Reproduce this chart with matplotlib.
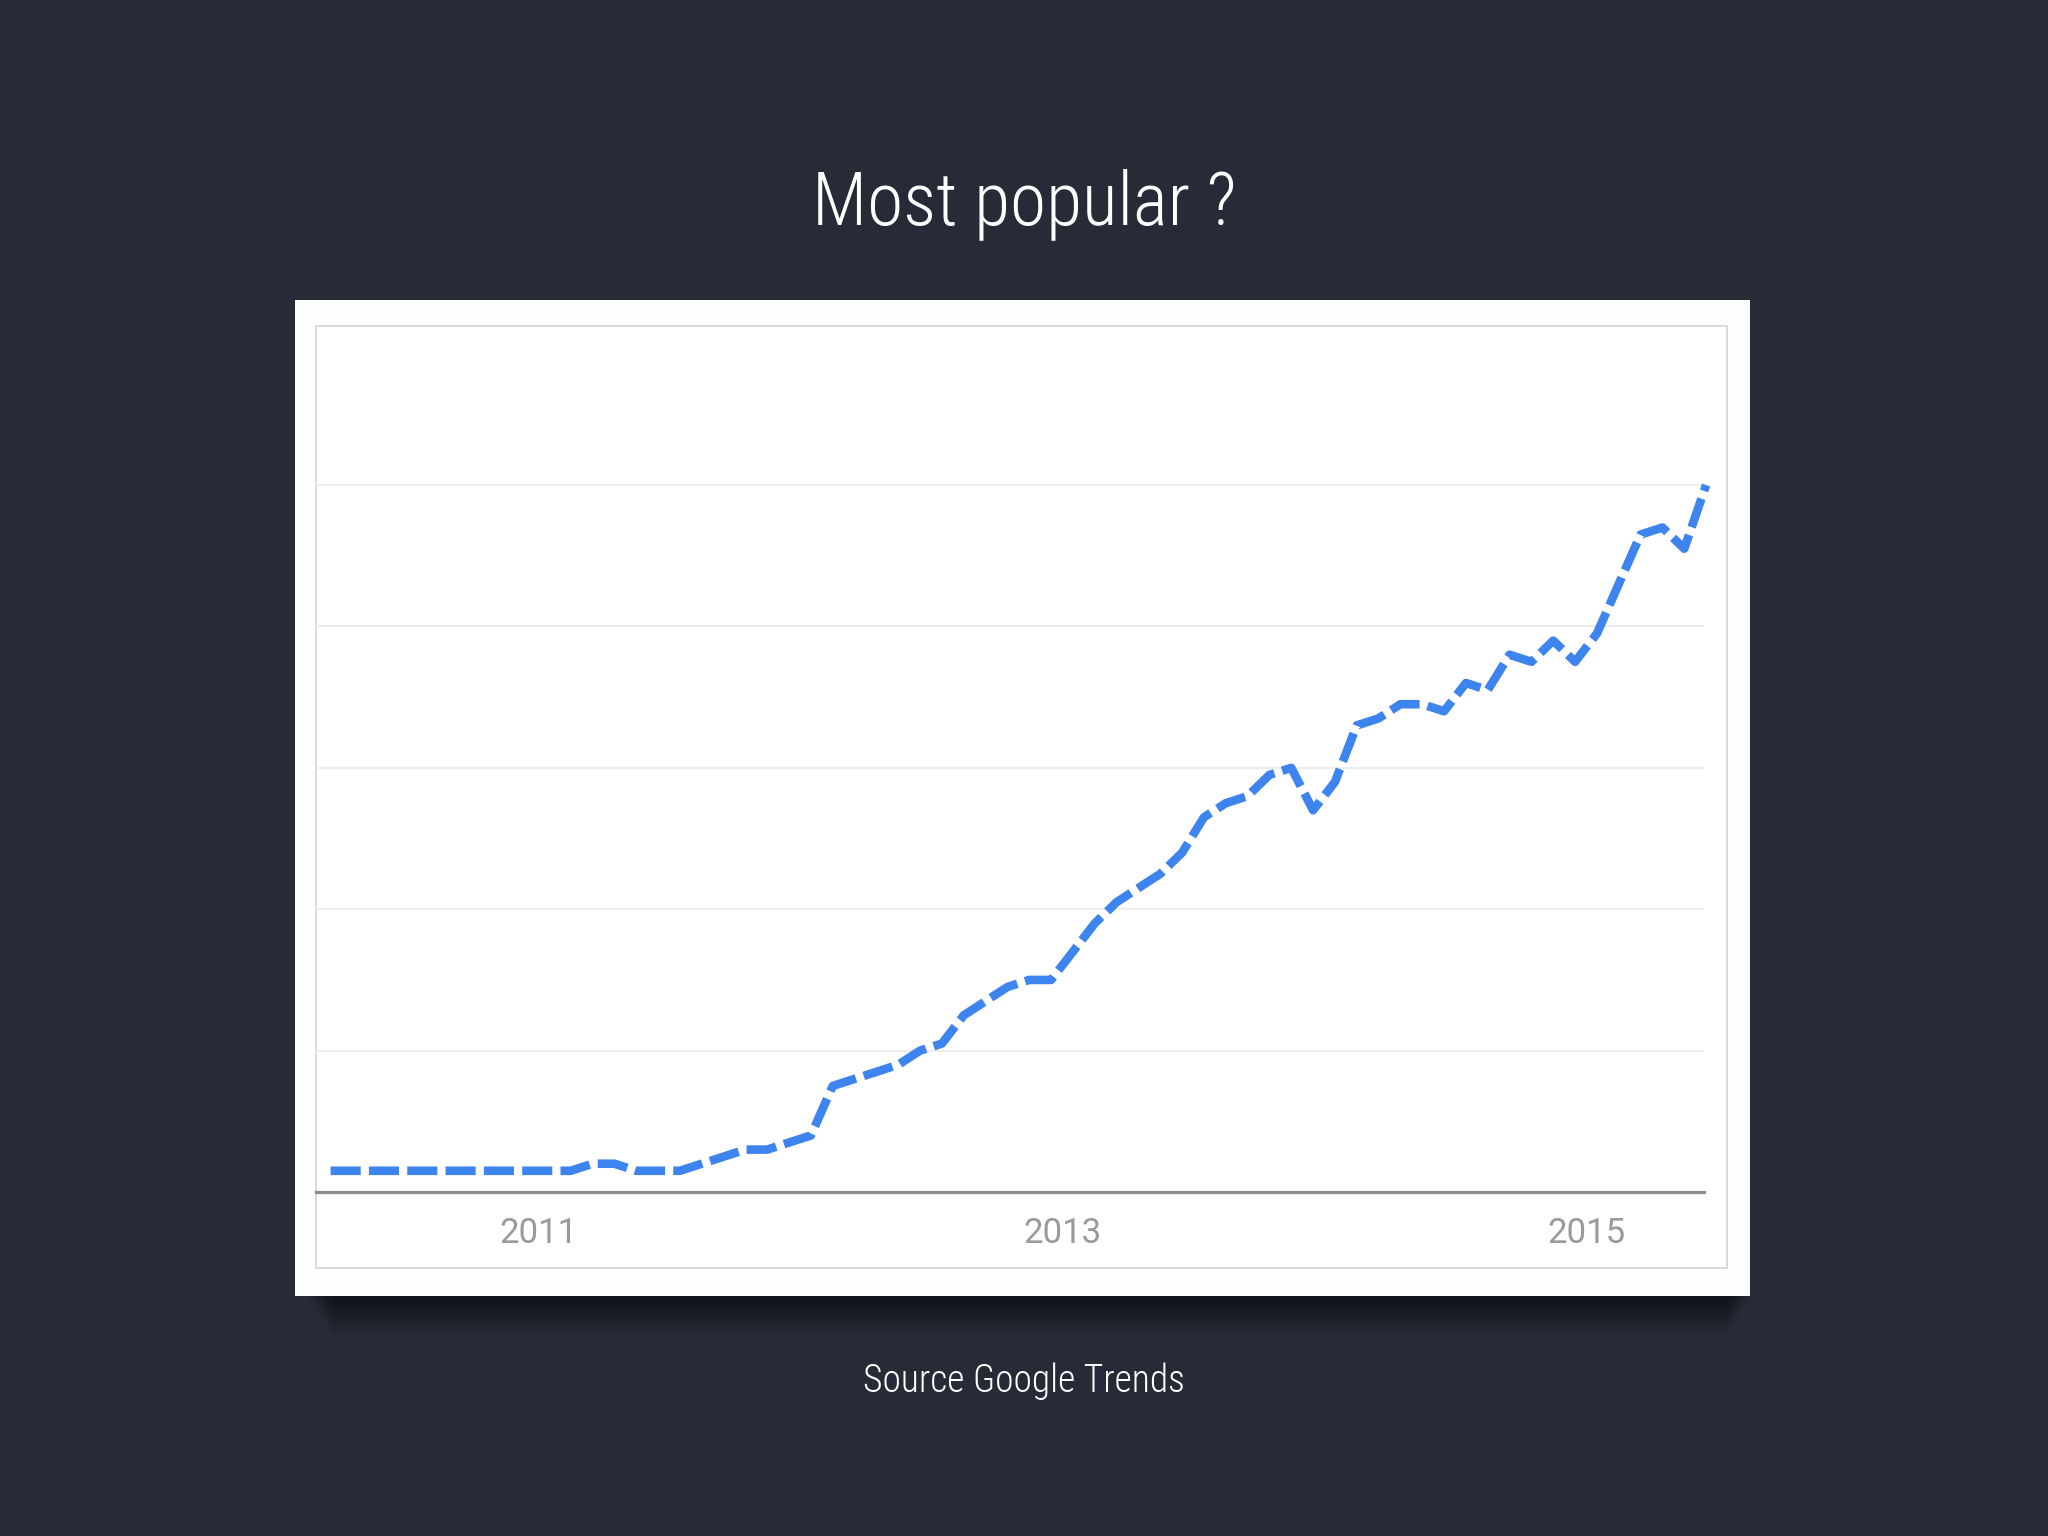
import matplotlib
matplotlib.use("Agg")
import matplotlib.pyplot as plt
from matplotlib.patches import Rectangle
import numpy as np

# ---------------- data (Google Trends, monthly, Mar 2010 - Jun 2015) ----------------
start_year = 2010
start_month = 3
interest = [3, 3, 3, 3, 3, 3, 3, 3, 3, 3, 3, 3,
            4, 4, 3, 3, 3, 4, 5, 6, 6, 7, 8, 15,
            16, 17, 18, 20, 21, 25, 27, 29, 30, 30, 34, 38,
            41, 43, 45, 48, 53, 55, 56, 59, 60, 54, 58, 66,
            67, 69, 69, 68, 72, 71, 76, 75, 78, 75, 79, 86,
            93, 94, 91, 100]
tick_years = [2011, 2013, 2015]
tick_labels = ["2011", "2013", "2015"]
grid_values = [20, 40, 60, 80, 100]
title_text = "Most popular ?"
source_text = "Source Google Trends"

# month mid-points as fractional years
x_vals = [start_year + (start_month - 1 + i + 0.5) / 12.0 for i in range(len(interest))]

W, H = 2048, 1536
BG = "#272b37"
fig = plt.figure(figsize=(W / 100, H / 100), dpi=100, facecolor=BG)

def fx(px):
    return px / W

def fy(py):
    return 1 - py / H

# shadow under the white panel
for k in range(12):
    fig.patches.append(Rectangle((fx(310 + k * 2), fy(1300 + k * 3.2)),
                                 fx(1750 - 310 - k * 4), (3.2 * (k + 1) + 4) / H,
                                 transform=fig.transFigure, facecolor="black",
                                 edgecolor="none", alpha=0.045, zorder=0))

# white panel
fig.patches.append(Rectangle((fx(295), fy(1296)), fx(1750 - 295), (1296 - 300) / H,
                             transform=fig.transFigure, facecolor="#fdfdfd",
                             edgecolor="none", zorder=1))
# inner chart border
fig.patches.append(Rectangle((fx(316), fy(1268)), fx(1727 - 316), (1268 - 326) / H,
                             transform=fig.transFigure, facecolor="white",
                             edgecolor="#d8d8d8", lw=1.3, zorder=2))

ax = fig.add_axes([fx(316), fy(1192), fx(1704 - 316), (1192 - 326) / H], zorder=3)
ax.set_facecolor("none")

x_left = 2011 - (538 - 316) / 262.0
x_right = x_left + (1704 - 316) / 262.0
ax.set_xlim(x_left, x_right)
ax.set_ylim(0, 122.5)

for g in grid_values:
    ax.axhline(g, color="#ededed", lw=1.6, zorder=1)

line, = ax.plot(x_vals, interest, color="#3d84ef", lw=6.2, zorder=3,
                solid_joinstyle="round", dash_capstyle="butt", clip_on=False)
line.set_dashes((3.5, 0.95))

for s in ["top", "left", "right"]:
    ax.spines[s].set_visible(False)
ax.spines["bottom"].set_color("#8c8c8c")
ax.spines["bottom"].set_linewidth(2.3)

ax.set_yticks([])
ax.set_xticks(tick_years)
ax.set_xticklabels(tick_labels, fontsize=25, color="#9a9a9a",
                   family=["Roboto", "DejaVu Sans"])
ax.tick_params(axis="x", length=0, pad=18)

fig.text(0.5, fy(224), title_text, ha="center", va="baseline", color="white",
         fontsize=53, fontstretch="condensed", fontweight="light",
         family=["Roboto Condensed", "DejaVu Sans"])
fig.text(0.5, fy(1392), source_text, ha="center", va="baseline", color="white",
         fontsize=27, fontstretch="condensed", fontweight="light",
         family=["Roboto Condensed", "DejaVu Sans"])

fig.savefig("out.png", dpi=100, facecolor=BG)
